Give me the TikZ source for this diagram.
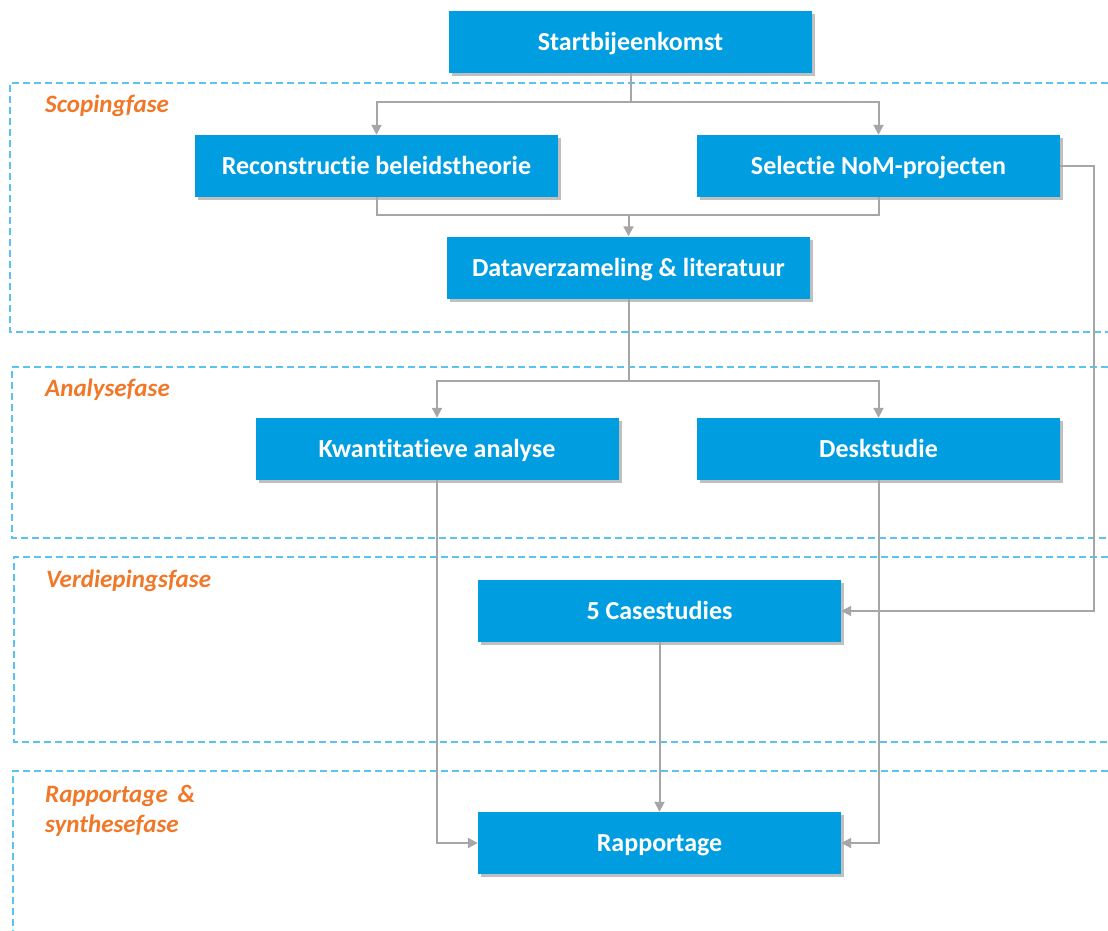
\documentclass[tikz,border=0pt]{standalone}
\usepackage{fontspec}
\setmainfont{Carlito}[Ligatures={NoCommon}]
\usetikzlibrary{arrows.meta,shadows}
\definecolor{boxblue}{RGB}{0,158,224}
\definecolor{phaseblue}{RGB}{90,195,240}
\definecolor{phaseorange}{RGB}{240,120,40}
\definecolor{linegray}{RGB}{166,166,166}
\tikzset{
  stepbox/.style={fill=boxblue, minimum width=363pt, minimum height=62pt, inner sep=0pt,
    text height=17pt, text depth=0pt,
    text=white, font=\fontsize{26}{30}\selectfont\bfseries,
    drop shadow={shadow xshift=3pt, shadow yshift=-3pt, fill=black, opacity=0.25}},
  phaseline/.style={draw=phaseblue, line width=1.3pt, dash pattern=on 7pt off 4pt},
  phaselabel/.style={anchor=west, text=phaseorange, font=\fontsize{25}{30}\selectfont\bfseries\itshape, align=left, inner sep=0pt},
  conn/.style={draw=linegray, line width=2pt},
  arr/.style={conn, -{Triangle[length=10pt,width=10pt]}},
}
\begin{document}
\begin{tikzpicture}[x=1pt,y=-1pt]
\useasboundingbox (0,0) rectangle (1108,931);
% phase frames
\draw[phaseline] (1108,83) -- (10,83) -- (10,332) -- (1108,332);
\draw[phaseline] (1108,367) -- (12,367) -- (12,538) -- (1108,538);
\draw[phaseline] (1108,557) -- (14,557) -- (14,742) -- (1108,742);
\draw[phaseline] (1108,771) -- (13,771) -- (13,935);
\node[phaselabel] (lscope) at (45,106) {Scopingfase};
\node[phaselabel] (lanal) at (45,390) {Analysefase};
\node[phaselabel] (lverd) at (46,581) {Verdiepingsfase};
\node[phaselabel] (lrapp) at (45,811) {Rapportage \,\&\\synthesefase};
% boxes
\node[stepbox] (start) at (630.5,42) {Startbijeenkomst};
\node[stepbox] (recon) at (376.5,166) {Reconstructie beleidstheorie};
\node[stepbox] (selec) at (878.5,166) {Selectie NoM-projecten};
\node[stepbox] (data) at (628.5,267.5) {Dataverzameling \& literatuur};
\node[stepbox] (kwan) at (437,449) {Kwantitatieve analyse};
\node[stepbox] (desk) at (878.5,449) {Deskstudie};
\node[stepbox] (case) at (659.5,611) {5 Casestudies};
\node[stepbox] (rapp) at (659.5,843) {Rapportage};
% connectors
\coordinate (j1) at (630.5,102);
\draw[conn] (start.south) -- (j1);
\draw[arr] (j1) -| (recon.north);
\draw[arr] (j1) -| (selec.north);
\coordinate (j2) at (628.5,215);
\draw[conn] (recon.south) |- (j2);
\draw[conn] (selec.south) |- (j2);
\draw[arr] (j2) -- (data.north);
\coordinate (j3) at (628.5,381);
\draw[conn] (data.south) -- (j3);
\draw[arr] (j3) -| (kwan.north);
\draw[arr] (j3) -| (desk.north);
\coordinate (j4) at (1094,166);
\draw[arr] (selec.east) -- (j4) |- (case.east);
\draw[arr] (kwan.south) |- (rapp.west);
\draw[arr] (desk.south) |- (rapp.east);
\draw[arr] (case.south) -- (rapp.north);
\end{tikzpicture}
\end{document}
